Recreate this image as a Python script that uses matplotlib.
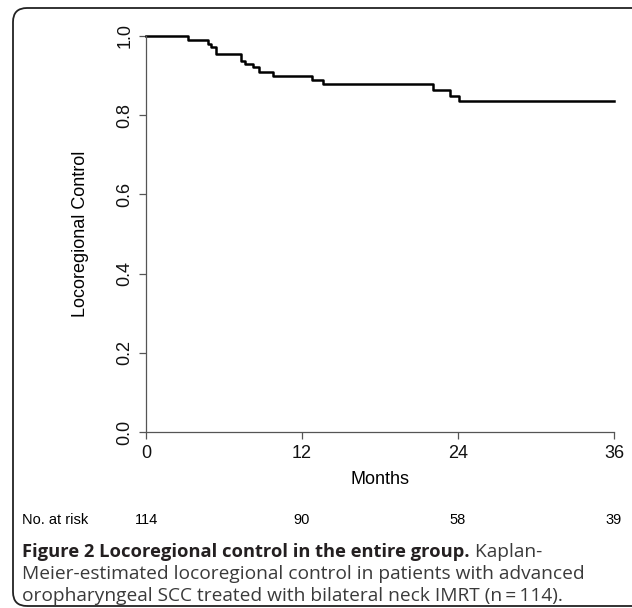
import matplotlib
matplotlib.use("Agg")
import matplotlib.pyplot as plt
from matplotlib.patches import FancyBboxPatch
from matplotlib.transforms import IdentityTransform

# Kaplan-Meier step curve (months, locoregional control)
months = [0, 3.2, 4.8, 5.0, 5.4, 7.3, 7.6, 8.25, 8.7, 9.8, 12.8, 13.6, 22.1, 23.4, 24.1, 36]
control = [1.0, 0.989, 0.981, 0.973, 0.955, 0.938, 0.930, 0.922, 0.908, 0.899, 0.888, 0.878,
           0.864, 0.849, 0.835, 0.835]

x_ticks = [0, 12, 24, 36]
y_ticks = [0.0, 0.2, 0.4, 0.6, 0.8, 1.0]
at_risk = [114, 90, 58, 39]

W, H = 632, 608
fig = plt.figure(figsize=(W / 100, H / 100), dpi=100)
fig.patch.set_facecolor("white")

# rounded frame around the whole figure
frame = FancyBboxPatch((13, H - 606), 640, 598, boxstyle="round,pad=0,rounding_size=14",
                       facecolor="none", edgecolor="#222222", linewidth=1.3,
                       transform=IdentityTransform())
fig.patches.append(frame)

ax = fig.add_axes([146 / W, 1 - 432 / H, (614 - 146) / W, (432 - 36) / H])
ax.step(months, control, where="post", color="black", linewidth=1.8, clip_on=False)
ax.set_xlim(0, 36)
ax.set_ylim(0, 1)
for side in ["top", "right"]:
    ax.spines[side].set_visible(False)
for side in ["left", "bottom"]:
    ax.spines[side].set_color("#555555")
    ax.spines[side].set_linewidth(0.9)

ax.set_xticks(x_ticks)
ax.set_yticks(y_ticks)
ax.set_yticklabels([f"{v:.1f}" for v in y_ticks], rotation=90, va="center")
ax.tick_params(direction="out", length=5, width=0.9, color="#555555", labelsize=13,
               labelcolor="#111111", pad=4, labelfontfamily="Liberation Sans")
ax.set_xlabel("Months", fontsize=13, family="Liberation Sans", labelpad=7)
ax.set_ylabel("Locoregional Control", fontsize=13, family="Liberation Sans", labelpad=20)

# number at risk row
fig.text(22 / W, 1 - 520 / H, "No. at risk", fontsize=10.5, family="Liberation Sans",
         va="center", ha="left")
for t, n in zip(x_ticks, at_risk):
    xf = ax.transData.transform((t, 0))[0] / W
    fig.text(xf, 1 - 520 / H, str(n), fontsize=10.5, family="Liberation Sans",
             va="center", ha="center")

# caption
bold = fig.text(22 / W, 1 - 552 / H, "Figure 2 Locoregional control in the entire group.",
                fontsize=13.2, family="Open Sans", weight="bold", color="#231f20",
                va="center", ha="left")
renderer = fig.canvas.get_renderer()
bb = bold.get_window_extent(renderer)
fig.text(bb.x1 / W, 1 - 552 / H, " Kaplan-", fontsize=13.8, family="Open Sans",
         color="#3a3a3a", va="center", ha="left")
fig.text(22 / W, 1 - 574 / H, "Meier-estimated locoregional control in patients with advanced",
         fontsize=13.8, family="Open Sans", color="#3a3a3a", va="center", ha="left")
fig.text(22 / W, 1 - 596 / H, "oropharyngeal SCC treated with bilateral neck IMRT (n\u2009=\u2009114).",
         fontsize=13.8, family=["Open Sans", "DejaVu Sans"], color="#3a3a3a",
         va="center", ha="left")

fig.savefig("out.png", dpi=100)
plt.close(fig)
